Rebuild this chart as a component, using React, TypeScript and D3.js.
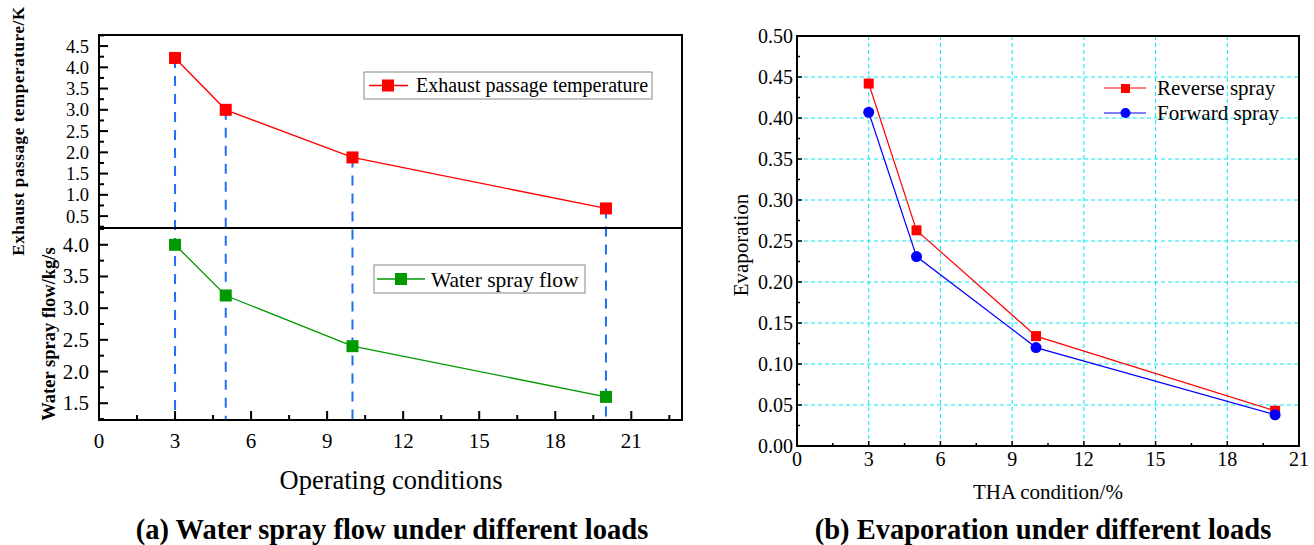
import * as d3 from "d3";

// values
const conditions = [3, 5, 10, 20];
const exhaustTemp = [4.22, 3.0, 1.88, 0.68];
const sprayFlow = [4.0, 3.2, 2.4, 1.6];
const reverseSpray = [0.442, 0.263, 0.134, 0.043];
const forwardSpray = [0.407, 0.231, 0.12, 0.038];

const xTicks = [0, 3, 6, 9, 12, 15, 18, 21];
const xMinor = [1.5, 4.5, 7.5, 10.5, 13.5, 16.5, 19.5, 22.5];
const tempTicks = [0.5, 1.0, 1.5, 2.0, 2.5, 3.0, 3.5, 4.0, 4.5];
const tempMinor = [0.25, 0.75, 1.25, 1.75, 2.25, 2.75, 3.25, 3.75, 4.25, 4.75];
const flowTicks = [1.5, 2.0, 2.5, 3.0, 3.5, 4.0];
const flowMinor = [1.25, 1.75, 2.25, 2.75, 3.25, 3.75, 4.25];
const evapTicks = [0, 0.05, 0.1, 0.15, 0.2, 0.25, 0.3, 0.35, 0.4, 0.45, 0.5];
const evapMinor = [0.025, 0.075, 0.125, 0.175, 0.225, 0.275, 0.325, 0.375, 0.425, 0.475];

const FONT = "'Liberation Serif', 'Times New Roman', serif";

export default function App() {
  // left chart (a)
  const xA = d3.scaleLinear().domain([0, 23]).range([99, 682]);
  const yTop = d3.scaleLinear().domain([0.22, 4.76]).range([228, 35]);
  const yBot = d3.scaleLinear().domain([1.235, 4.265]).range([420, 228]);
  // right chart (b)
  const xB = d3.scaleLinear().domain([0, 21]).range([797, 1299]);
  const yB = d3.scaleLinear().domain([0, 0.5]).range([446, 36]);

  const lineTop = d3
    .line<number>()
    .x((d, i) => xA(conditions[i]))
    .y((d) => yTop(d));
  const lineBot = d3
    .line<number>()
    .x((d, i) => xA(conditions[i]))
    .y((d) => yBot(d));
  const lineB = d3
    .line<number>()
    .x((d, i) => xB(conditions[i]))
    .y((d) => yB(d));

  const f1 = d3.format(".1f");
  const f2 = d3.format(".2f");

  const [aL, aR] = xA.range();
  const [bL, bR] = xB.range();
  const bTop = yB(0.5);
  const bBot = yB(0);

  return (
    <svg
      width={1314}
      height={545}
      style={{ position: "absolute", left: 0, top: 0, background: "#fff" }}
      fontFamily={FONT}
    >
      {/* ---------- chart (a) ---------- */}
      {/* dashed blue guides */}
      {conditions.map((c, i) => (
        <line
          key={"g" + c}
          x1={xA(c)}
          x2={xA(c)}
          y1={yTop(exhaustTemp[i])}
          y2={420}
          stroke="#1f6fef"
          strokeWidth={2}
          strokeDasharray="10,8"
        />
      ))}

      {/* ticks */}
      {xTicks.map((t) => (
        <g key={"xa" + t}>
          <line x1={xA(t)} x2={xA(t)} y1={420} y2={411} stroke="#000" strokeWidth={2} />
          <text x={xA(t)} y={448} fontSize={21} textAnchor="middle">
            {t}
          </text>
        </g>
      ))}
      {xMinor.map((t) => (
        <line key={"xam" + t} x1={xA(t)} x2={xA(t)} y1={420} y2={415} stroke="#000" strokeWidth={2} />
      ))}
      {tempTicks.map((t) => (
        <g key={"yt" + t}>
          <line x1={aL} x2={aL + 9} y1={yTop(t)} y2={yTop(t)} stroke="#000" strokeWidth={2} />
          <text x={89} y={yTop(t) + 6.5} fontSize={18.5} textAnchor="end">
            {f1(t)}
          </text>
        </g>
      ))}
      {tempMinor.map((t) => (
        <line key={"ytm" + t} x1={aL} x2={aL + 5} y1={yTop(t)} y2={yTop(t)} stroke="#000" strokeWidth={2} />
      ))}
      {flowTicks.map((t) => (
        <g key={"yb" + t}>
          <line x1={aL} x2={aL + 9} y1={yBot(t)} y2={yBot(t)} stroke="#000" strokeWidth={2} />
          <text x={89} y={yBot(t) + 7} fontSize={21} textAnchor="end">
            {f1(t)}
          </text>
        </g>
      ))}
      {flowMinor.map((t) => (
        <line key={"ybm" + t} x1={aL} x2={aL + 5} y1={yBot(t)} y2={yBot(t)} stroke="#000" strokeWidth={2} />
      ))}

      {/* series */}
      <path d={lineTop(exhaustTemp) || ""} fill="none" stroke="#ff0000" strokeWidth={1.3} />
      {exhaustTemp.map((v, i) => (
        <rect key={"rt" + i} x={xA(conditions[i]) - 6} y={yTop(v) - 6} width={12} height={12} fill="#ff0000" />
      ))}
      <path d={lineBot(sprayFlow) || ""} fill="none" stroke="#009900" strokeWidth={1.3} />
      {sprayFlow.map((v, i) => (
        <rect key={"rb" + i} x={xA(conditions[i]) - 6} y={yBot(v) - 6} width={12} height={12} fill="#009900" />
      ))}

      {/* frame + divider */}
      <rect x={aL} y={35} width={aR - aL} height={420 - 35} fill="none" stroke="#000" strokeWidth={2} />
      <line x1={aL} x2={aR} y1={228} y2={228} stroke="#000" strokeWidth={2} />

      {/* legends */}
      <rect x={364} y={72} width={288} height={27} fill="#fff" stroke="#888" strokeWidth={1} />
      <line x1={369} x2={408} y1={85.5} y2={85.5} stroke="#ff0000" strokeWidth={1.5} />
      <rect x={382} y={79.5} width={12} height={12} fill="#ff0000" />
      <text x={416} y={92} fontSize={20}>
        Exhaust passage temperature
      </text>
      <rect x={374} y={265} width={211} height={28} fill="#fff" stroke="#888" strokeWidth={1} />
      <line x1={377} x2={425} y1={279} y2={279} stroke="#009900" strokeWidth={1.5} />
      <rect x={395} y={273} width={12} height={12} fill="#009900" />
      <text x={431} y={286.5} fontSize={21.5}>
        Water spray flow
      </text>

      {/* axis titles */}
      <text
        transform="translate(24,131) rotate(-90)"
        fontSize={17}
        fontWeight="bold"
        textAnchor="middle"
        letterSpacing={0.6}
      >
        Exhaust passage temperature/K
      </text>
      <text transform="translate(55,334) rotate(-90)" fontSize={18.5} fontWeight="bold" textAnchor="middle">
        Water spray flow/kg/s
      </text>
      <text x={391} y={489} fontSize={26.5} textAnchor="middle">
        Operating conditions
      </text>
      <text x={392} y={539} fontSize={28.5} fontWeight="bold" textAnchor="middle">
        (a) Water spray flow under different loads
      </text>

      {/* ---------- chart (b) ---------- */}
      {/* grid */}
      {xTicks
        .filter((t) => t > 0 && t < 21)
        .map((t) => (
          <line key={"gx" + t} x1={xB(t)} x2={xB(t)} y1={bTop} y2={bBot} stroke="#00e8f0" strokeWidth={1} strokeDasharray="4,3" />
        ))}
      {evapTicks
        .filter((t) => t > 0 && t < 0.5)
        .map((t) => (
          <line key={"gy" + t} x1={bL} x2={bR} y1={yB(t)} y2={yB(t)} stroke="#00e8f0" strokeWidth={1} strokeDasharray="4,3" />
        ))}

      {xTicks.map((t) => (
        <g key={"xb" + t}>
          <line x1={xB(t)} x2={xB(t)} y1={bBot} y2={bBot - 5} stroke="#000" strokeWidth={1.5} />
          <text x={xB(t)} y={466} fontSize={20} textAnchor="middle">
            {t}
          </text>
        </g>
      ))}
      {xMinor
        .filter((t) => t < 21)
        .map((t) => (
          <line key={"xbm" + t} x1={xB(t)} x2={xB(t)} y1={bBot} y2={bBot - 3} stroke="#000" strokeWidth={1.5} />
        ))}
      {evapTicks.map((t) => (
        <g key={"eb" + t}>
          <line x1={bL} x2={bL + 5} y1={yB(t)} y2={yB(t)} stroke="#000" strokeWidth={1.5} />
          <text x={793} y={yB(t) + 7} fontSize={20} textAnchor="end">
            {f2(t)}
          </text>
        </g>
      ))}
      {evapMinor.map((t) => (
        <line key={"ebm" + t} x1={bL} x2={bL + 3} y1={yB(t)} y2={yB(t)} stroke="#000" strokeWidth={1.5} />
      ))}

      <path d={lineB(reverseSpray) || ""} fill="none" stroke="#ff0000" strokeWidth={1.2} />
      <path d={lineB(forwardSpray) || ""} fill="none" stroke="#0000ff" strokeWidth={1.2} />
      {reverseSpray.map((v, i) => (
        <rect key={"rs" + i} x={xB(conditions[i]) - 5} y={yB(v) - 5} width={10} height={10} fill="#ff0000" />
      ))}
      {forwardSpray.map((v, i) => (
        <circle key={"fs" + i} cx={xB(conditions[i])} cy={yB(v)} r={5.5} fill="#0000ff" />
      ))}

      <rect x={bL} y={bTop} width={bR - bL} height={bBot - bTop} fill="none" stroke="#000" strokeWidth={2} />

      {/* legend */}
      <line x1={1104} x2={1146} y1={88} y2={88} stroke="#ff0000" strokeWidth={1.2} />
      <rect x={1121} y={84} width={9} height={9} fill="#ff0000" />
      <text x={1157} y={95} fontSize={21}>
        Reverse spray
      </text>
      <line x1={1104} x2={1146} y1={113} y2={113} stroke="#0000ff" strokeWidth={1.2} />
      <circle cx={1125.5} cy={113} r={5} fill="#0000ff" />
      <text x={1157} y={120} fontSize={21}>
        Forward spray
      </text>

      <text transform="translate(748,245) rotate(-90)" fontSize={21} textAnchor="middle">
        Evaporation
      </text>
      <text x={1048} y={499} fontSize={21} textAnchor="middle">
        THA condition/%
      </text>
      <text x={1043} y={539} fontSize={28.5} fontWeight="bold" textAnchor="middle">
        (b) Evaporation under different loads
      </text>
    </svg>
  );
}
